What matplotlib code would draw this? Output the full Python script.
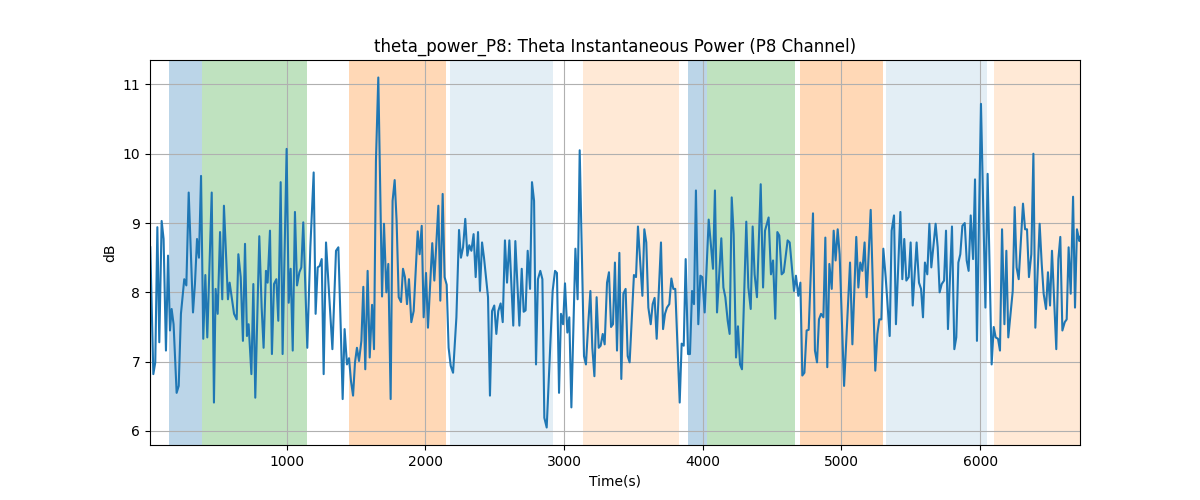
import matplotlib
matplotlib.use("Agg")
import matplotlib.pyplot as plt

# --- señal: tiempo (s) y potencia theta (dB) ---
time_s = [
    17, 39, 53, 68, 82, 99, 113, 130, 145, 159, 171, 185, 207, 222, 238, 262, 277, 294, 310, 325,
    339, 354, 368, 383, 399, 414, 428, 460, 476, 488, 503, 520, 536, 548,
    577, 589, 621, 640, 652, 669, 685, 700, 714, 726, 746, 760, 774, 803, 820, 834,
    851, 863, 880, 894, 909, 926, 940, 957, 971, 1000, 1015, 1029, 1044, 1060, 1075, 1092,
    1106, 1120, 1149, 1171, 1195, 1209, 1224, 1238, 1253, 1267, 1284, 1306, 1330, 1356, 1373, 1390,
    1404, 1418, 1435, 1450, 1464, 1479, 1493, 1507, 1522, 1539, 1553, 1567, 1584, 1599, 1616, 1630,
    1644, 1661,
    1688, 1702, 1719, 1733, 1750, 1764, 1779, 1793, 1808, 1825, 1839, 1853, 1868, 1882, 1899, 1916,
    1945, 1959, 1974, 1988, 2005, 2019, 2050, 2065, 2094, 2108, 2125, 2139, 2154, 2168, 2183, 2200,
    2224, 2243, 2257, 2272, 2288, 2303, 2317, 2332, 2348, 2363, 2380, 2394, 2409, 2423, 2452, 2466,
    2481, 2497, 2512, 2526, 2543, 2558, 2574, 2589, 2606, 2634, 2649, 2678, 2695, 2709, 2723, 2738,
    2755, 2769, 2784, 2798,
    2812, 2829, 2844, 2858, 2875, 2918, 2935, 2949, 2964, 2978, 2993, 3007, 3024, 3038, 3053, 3082,
    3098, 3113, 3144, 3158, 3175, 3190, 3204, 3219, 3235, 3250, 3264, 3279, 3293, 3310, 3324, 3339,
    3353, 3367, 3382, 3399, 3413, 3428, 3444, 3459, 3473, 3504, 3519, 3533, 3565, 3579, 3593, 3608,
    3625, 3639, 3653, 3668, 3699, 3714, 3728, 3742, 3759, 3774, 3788, 3802, 3834, 3848, 3863, 3877,
    3894, 3908, 3923,
    3937, 3951, 3968, 3983, 3997, 4014, 4043, 4074, 4088, 4103, 4134, 4149, 4163, 4180, 4194, 4209,
    4223, 4240, 4254, 4269, 4283, 4314, 4329, 4346, 4360, 4374, 4391, 4418, 4435, 4449, 4475,
    4492, 4507, 4523, 4538, 4552, 4569, 4584, 4612, 4627, 4658, 4672, 4689, 4704, 4718, 4733, 4749,
    4764, 4795, 4809, 4824, 4838, 4853, 4870, 4884, 4898, 4913, 4930, 4944, 4958, 4973, 4987, 5019,
    5062, 5079, 5107, 5122, 5136, 5151, 5167, 5182, 5211, 5244, 5259, 5273, 5288, 5302, 5319, 5348,
    5362, 5379, 5393, 5425, 5439, 5453, 5468, 5485, 5499, 5514, 5542, 5559, 5574, 5588, 5602,
    5619, 5634, 5648, 5679, 5694, 5708, 5723, 5740, 5754, 5768, 5797, 5814, 5828, 5843, 5857, 5872,
    5889, 5903, 5917, 5932, 5949, 5963, 5977, 6006, 6038, 6054, 6083, 6098, 6112, 6129, 6143, 6158,
    6175, 6189, 6203, 6235, 6249, 6263, 6278, 6309, 6324, 6338, 6352, 6369, 6384, 6398, 6429, 6444,
    6458, 6475, 6489, 6504, 6518, 6549, 6564, 6578, 6593, 6610, 6624, 6638, 6653, 6670, 6684, 6698,
    6715, 6720,
]
power_db = [
    8.65, 6.82, 6.99, 8.94, 7.28, 9.03, 8.77, 7.16, 8.53, 7.45, 7.76, 7.54, 6.55, 6.65, 7.69, 8.19, 8.10, 9.44, 8.55, 7.71,
    8.12, 8.77, 8.50, 9.68, 7.33, 8.25, 7.35, 9.44, 6.41, 8.05, 7.69, 8.87, 7.90, 9.25,
    7.90, 8.14, 7.69, 7.61, 8.55, 8.22, 7.30, 8.70, 7.37, 7.54, 6.82, 8.12, 6.48, 8.81, 7.78, 7.20,
    8.31, 8.14, 8.89, 7.11, 8.12, 8.19, 7.59, 9.59, 7.11, 10.07, 7.85, 8.34, 7.16, 9.16, 8.10, 8.29,
    8.36, 9.01, 7.20, 8.65, 9.73, 7.69, 8.36, 8.38, 8.48, 6.82, 8.72, 7.98, 7.18, 8.60, 8.65, 7.50,
    6.46, 7.47, 6.96, 7.05, 6.72, 6.51, 6.99, 7.20, 7.01, 7.30, 8.08, 6.89, 8.31, 7.06, 7.82, 7.18,
    9.90, 11.10,
    7.94, 8.99, 8.00, 8.41, 6.46, 9.32, 9.62, 9.03, 7.93, 7.86, 8.34, 8.22, 7.83, 8.19, 7.57, 7.73,
    8.88, 8.55, 8.96, 7.64, 8.28, 7.49, 8.71, 8.17, 9.25, 7.88, 9.42, 8.22, 8.11, 7.20, 6.94, 6.84,
    7.64, 8.90, 8.50, 8.65, 9.06, 8.53, 8.68, 8.60, 8.84, 8.22, 8.87, 8.02, 8.72, 8.50, 7.93, 6.51,
    7.73, 7.81, 7.40, 7.73, 7.84, 7.57, 8.75, 8.14, 8.75, 7.52, 8.74, 7.52, 8.34, 7.72, 7.74, 8.60,
    8.05, 9.59, 9.32, 6.96,
    8.19, 8.31, 8.19, 6.19, 6.05, 8.02, 8.31, 8.28, 6.55, 7.69, 7.54, 8.13, 7.42, 7.64, 6.34, 8.63,
    7.90, 10.05, 7.08, 6.96, 7.56, 8.02, 7.20, 6.79, 7.93, 7.20, 7.23, 7.40, 7.25, 8.14, 8.29, 7.50,
    7.54, 8.43, 7.16, 8.57, 6.75, 7.98, 8.05, 7.08, 6.99, 8.25, 8.22, 8.95, 7.95, 8.91, 8.72, 7.78,
    7.54, 7.83, 7.92, 7.33, 8.72, 7.47, 7.69, 7.78, 7.83, 8.20, 8.05, 8.05, 6.41, 7.26, 7.23, 8.48,
    7.11, 7.11, 8.02,
    7.83, 9.47, 7.54, 8.24, 8.22, 7.71, 9.05, 8.34, 9.47, 7.71, 8.78, 8.07, 7.93, 7.59, 7.40, 9.37,
    8.84, 7.06, 7.51, 6.96, 6.89, 9.02, 8.07, 7.76, 8.95, 8.26, 7.93, 9.56, 8.07, 8.89, 9.08,
    8.26, 8.46, 7.62, 8.87, 8.82, 8.26, 8.29, 8.75, 8.72, 8.02, 8.24, 7.95, 8.14, 6.80, 6.84, 7.45,
    7.46, 9.14, 7.16, 6.99, 7.61, 7.69, 7.64, 8.79, 6.92, 8.41, 8.05, 8.89, 8.46, 8.91, 8.55, 6.65,
    8.43, 7.25, 8.80, 8.07, 8.43, 8.31, 8.72, 7.93, 9.19, 6.87, 7.40, 7.61, 7.61, 8.63, 8.22, 7.37,
    8.89, 9.11, 7.54, 9.16, 8.19, 8.77, 8.17, 8.22, 8.72, 7.81, 8.72, 8.14, 8.05, 7.64, 8.43,
    8.26, 8.99, 8.36, 8.99, 8.65, 8.00, 8.12, 8.17, 8.89, 7.47, 8.95, 7.18, 7.35, 8.43, 8.55, 8.96,
    9.00, 8.46, 8.31, 9.11, 8.48, 9.63, 7.30, 10.72, 7.78, 9.71, 6.96, 7.50, 7.35, 7.33, 7.16, 8.91,
    7.54, 8.60, 7.35, 8.02, 9.23, 8.36, 8.19, 9.28, 8.91, 8.91, 8.22, 8.55, 10.00, 7.49, 8.99, 8.41,
    7.98, 7.76, 8.29, 7.81, 8.60, 7.18, 8.48, 8.80, 7.45, 7.57, 7.61, 8.65, 7.98, 9.38, 7.78, 8.91,
    8.74, 8.80,
]

# --- intervalos sombreados (inicio, fin) ---
span_starts = [154, 390, 1452, 2180, 3134, 3891, 4031, 4704, 5321, 6102]
span_ends = [390, 1147, 2151, 2923, 3831, 4031, 4665, 5300, 6050, 6720]
span_colors = ['tab:blue', 'tab:green', 'tab:orange', 'tab:blue', 'tab:orange',
               'tab:blue', 'tab:green', 'tab:orange', 'tab:blue', 'tab:orange']
span_alphas = [0.3, 0.3, 0.3, 0.12, 0.17, 0.3, 0.3, 0.3, 0.12, 0.17]

fig, ax = plt.subplots(figsize=(12, 5), dpi=100)

for s, e, c, a in zip(span_starts, span_ends, span_colors, span_alphas):
    ax.axvspan(s, e, color=c, alpha=a, linewidth=0)

ax.plot(time_s, power_db, color='tab:blue', linewidth=1.5)

ax.set_xlim(time_s[0] - 2, time_s[-1])
ax.set_title('theta_power_P8: Theta Instantaneous Power (P8 Channel)')
ax.set_xlabel('Time(s)')
ax.set_ylabel('dB')
ax.grid(True)

plt.savefig('out.png', dpi=100)
